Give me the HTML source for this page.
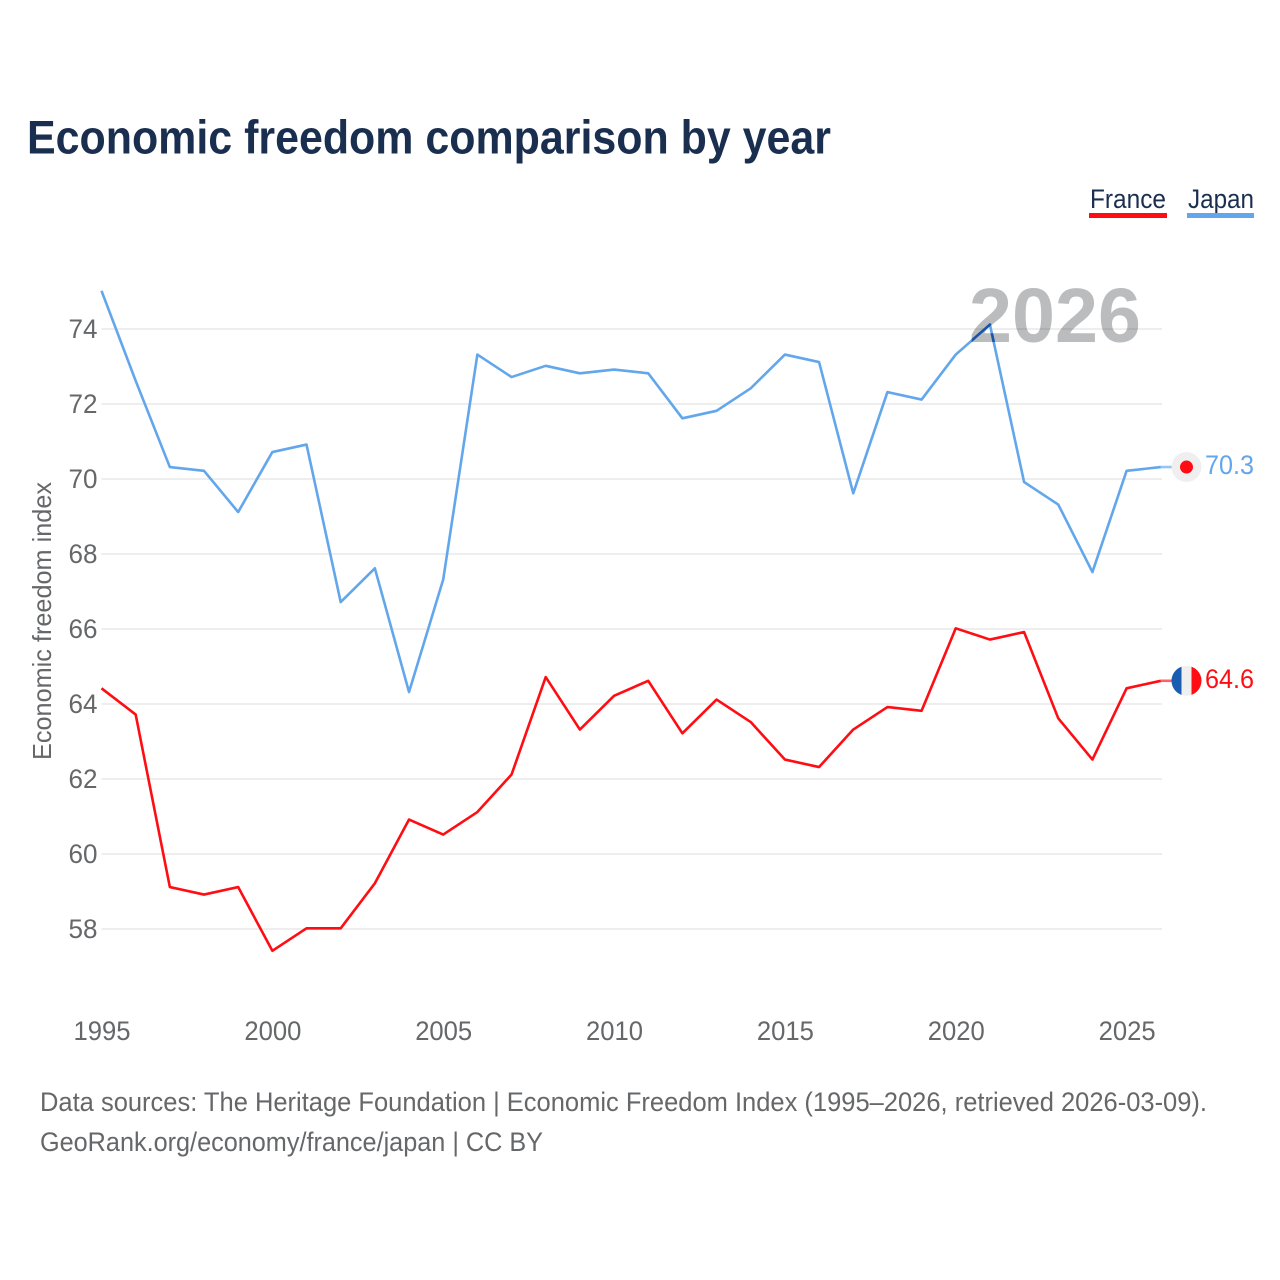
<!DOCTYPE html>
<html lang="en">
<head>
<meta charset="utf-8">
<title>Economic freedom comparison by year</title>
<style>
html,body{margin:0;padding:0;background:#fff;width:1280px;height:1280px;overflow:hidden}
svg{display:block}
text{font-family:"Liberation Sans",sans-serif}
</style>
</head>
<body>
<svg id="chart" width="1280" height="1280" viewBox="0 0 1280 1280" xmlns="http://www.w3.org/2000/svg">
  <defs>
    <clipPath id="year-clip"><text x="969" y="342" font-size="77" font-weight="700" textLength="172" lengthAdjust="spacingAndGlyphs">2026</text></clipPath>
    <clipPath id="flag-clip"><circle id="flag-clip-circle" cx="1186.5" cy="681" r="15"></circle></clipPath>
  </defs>
  <text x="27" y="153.5" font-size="47" font-weight="700" fill="#1a2f50" textLength="804" lengthAdjust="spacingAndGlyphs">Economic freedom comparison by year</text>

  <g>
    <g>
      <text x="1090" y="208" font-size="27" fill="#1a2f50" textLength="76" lengthAdjust="spacingAndGlyphs">France</text>
      <rect x="1089" y="213" width="78" height="5" fill="#ff0d12"></rect>
    </g>
    <g>
      <text x="1188" y="208" font-size="27" fill="#1a2f50" textLength="66" lengthAdjust="spacingAndGlyphs">Japan</text>
      <rect x="1187" y="213" width="67" height="5" fill="#62a6ec"></rect>
    </g>
  </g>

  <g id="grid"></g>
  <g id="y-ticks"></g>
  <g id="x-ticks"></g>

  <text transform="translate(51,621) rotate(-90)" text-anchor="middle" font-size="26" fill="#666769" textLength="278" lengthAdjust="spacingAndGlyphs">Economic freedom index</text>

  <text x="969" y="342" font-size="77" font-weight="700" fill="#bbbcbe" textLength="172" lengthAdjust="spacingAndGlyphs" style="mix-blend-mode:multiply">2026</text>

  <g id="series"></g>
  <g id="markers"></g>

  <g>
    <text x="40" y="1111" font-size="27" fill="#666769" textLength="1167" lengthAdjust="spacingAndGlyphs">Data sources: The Heritage Foundation | Economic Freedom Index (1995–2026, retrieved 2026-03-09).</text>
    <text x="40" y="1151" font-size="27" fill="#666769" textLength="503" lengthAdjust="spacingAndGlyphs">GeoRank.org/economy/france/japan | CC BY</text>
  </g>
</svg>
<script>
const years = [1995,1996,1997,1998,1999,2000,2001,2002,2003,2004,2005,2006,2007,2008,2009,2010,2011,2012,2013,2014,2015,2016,2017,2018,2019,2020,2021,2022,2023,2024,2025,2026];
const franceValues = [64.4,63.7,59.1,58.9,59.1,57.4,58.0,58.0,59.2,60.9,60.5,61.1,62.1,64.7,63.3,64.2,64.6,63.2,64.1,63.5,62.5,62.3,63.3,63.9,63.8,66.0,65.7,65.9,63.6,62.5,64.4,64.6];
const japanValues = [75.0,72.6,70.3,70.2,69.1,70.7,70.9,66.7,67.6,64.3,67.3,73.3,72.7,73.0,72.8,72.9,72.8,71.6,71.8,72.4,73.3,73.1,69.6,72.3,72.1,73.3,74.1,69.9,69.3,67.5,70.2,70.3];
const yTickValues = [58,60,62,64,66,68,70,72,74];
const xTickValues = [1995,2000,2005,2010,2015,2020,2025];

const NS = 'http://www.w3.org/2000/svg';
function xScale(year){ return 101.5 + (year - 1995) * 34.17; }
function yScale(v){ return 929 - (v - 58) * 37.5; }
function make(tag, attrs){
  const el = document.createElementNS(NS, tag);
  for (const k in attrs) el.setAttribute(k, attrs[k]);
  return el;
}
const LINE_SHIFT = -0.7;
function pathFrom(values){
  return values.map((v,i) => (i ? 'L' : 'M') + xScale(years[i]).toFixed(2) + ' ' + (yScale(v) + LINE_SHIFT).toFixed(2)).join(' ');
}

const grid = document.getElementById('grid');
const yTicks = document.getElementById('y-ticks');
yTickValues.forEach(v => {
  const line = make('line', {x1:101.5, x2:1162, y1:yScale(v), y2:yScale(v), stroke:'#eeeeef', 'stroke-width':2});
  
  
  grid.appendChild(line);
  const label = make('text', {x:68.5, y:yScale(v) + 9, 'font-size':27, fill:'#666769', textLength:29, lengthAdjust:'spacingAndGlyphs'});
  
  
  label.textContent = String(v);
  yTicks.appendChild(label);
});

const xTicks = document.getElementById('x-ticks');
xTickValues.forEach(y => {
  const label = make('text', {x:xScale(y) - 28, y:1040, 'font-size':27, fill:'#666769', textLength:57, lengthAdjust:'spacingAndGlyphs'});
  
  
  label.textContent = String(y);
  xTicks.appendChild(label);
});

const series = document.getElementById('series');
const lineFrance = make('path', {d:pathFrom(franceValues), fill:'none', stroke:'#ff0d12', 'stroke-width':2.6, 'stroke-linejoin':'round'});


series.appendChild(lineFrance);
const lineJapan = make('path', {d:pathFrom(japanValues), fill:'none', stroke:'#62a6ec', 'stroke-width':2.6, 'stroke-linejoin':'round'});


series.appendChild(lineJapan);
const overlapJapan = make('path', {d:pathFrom(japanValues), fill:'none', stroke:'#1a55a5', 'stroke-width':2.6, 'stroke-linejoin':'round', 'clip-path':'url(#year-clip)'});


series.appendChild(overlapJapan);

const markers = document.getElementById('markers');
const lastX = xScale(years[years.length - 1]);
const jpLast = japanValues[japanValues.length - 1];
const frLast = franceValues[franceValues.length - 1];
const jpY = yScale(jpLast) + LINE_SHIFT;
const frY = yScale(frLast) + LINE_SHIFT;

const tailJapan = make('line', {x1:lastX, x2:1172, y1:jpY, y2:jpY, stroke:'#62a6ec', 'stroke-width':2.6, opacity:.65});


markers.appendChild(tailJapan);
const tailFrance = make('line', {x1:lastX, x2:1172, y1:frY, y2:frY, stroke:'#ff0d12', 'stroke-width':2.6, opacity:.65});


markers.appendChild(tailFrance);

const jpBg = make('circle', {cx:1186.5, cy:jpY, r:15, fill:'#efeff0'});


markers.appendChild(jpBg);
const jpDot = make('circle', {cx:1186.5, cy:jpY, r:6.5, fill:'#ff0d12'});


markers.appendChild(jpDot);

document.getElementById('flag-clip-circle').setAttribute('cy', frY);
const flag = make('g', {'clip-path':'url(#flag-clip)'});


const frBlue = make('rect', {x:1171.5, y:frY - 15, width:10, height:30, fill:'#1a5cb0'});


flag.appendChild(frBlue);
const frWhite = make('rect', {x:1181.5, y:frY - 15, width:10, height:30, fill:'#efeff0'});


flag.appendChild(frWhite);
const frRed = make('rect', {x:1191.5, y:frY - 15, width:10, height:30, fill:'#ff0d12'});


flag.appendChild(frRed);
markers.appendChild(flag);

const jpLabel = make('text', {x:1205, y:474, 'font-size':27, fill:'#62a6ec', textLength:49, lengthAdjust:'spacingAndGlyphs'});


jpLabel.textContent = jpLast.toFixed(1);
markers.appendChild(jpLabel);
const frLabel = make('text', {x:1205, y:688, 'font-size':27, fill:'#ff0d12', textLength:49, lengthAdjust:'spacingAndGlyphs'});


frLabel.textContent = frLast.toFixed(1);
markers.appendChild(frLabel);
</script>
</body>
</html>
